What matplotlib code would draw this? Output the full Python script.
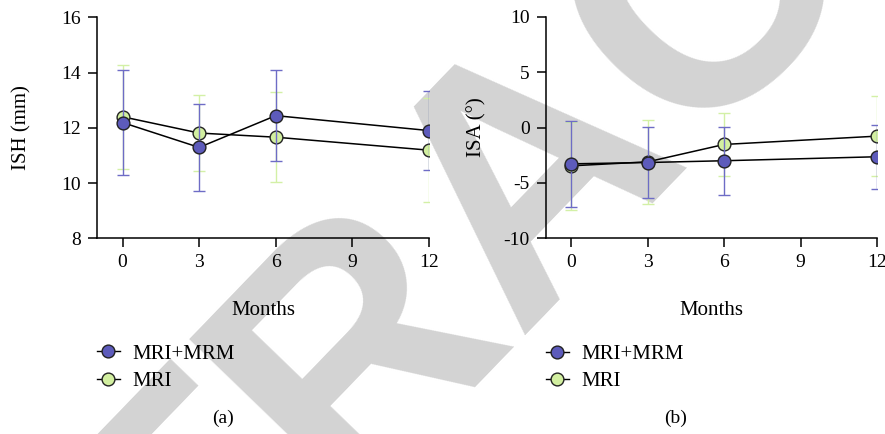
import matplotlib
matplotlib.use("Agg")
import matplotlib.pyplot as plt
from matplotlib.lines import Line2D

plt.rcParams['font.family'] = ['Liberation Serif', 'DejaVu Serif']

months = [0, 3, 6, 12]
groups = ["MRI+MRM", "MRI"]

# ISH (mm): mean and SD per group
ish_mean = {"MRI+MRM": [12.19, 11.29, 12.44, 11.90],
            "MRI": [12.40, 11.81, 11.66, 11.19]}
ish_sd = {"MRI+MRM": [1.89, 1.56, 1.65, 1.43],
          "MRI": [1.88, 1.37, 1.64, 1.88]}

# ISA (deg): mean and SD per group
isa_mean = {"MRI+MRM": [-3.28, -3.16, -3.00, -2.64],
            "MRI": [-3.46, -3.10, -1.53, -0.78]}
isa_sd = {"MRI+MRM": [3.85, 3.19, 3.07, 2.88],
          "MRI": [4.00, 3.80, 2.85, 3.58]}

face = {"MRI+MRM": "#5d5bbb", "MRI": "#d2efa0"}
bar = {"MRI+MRM": "#6e6cc6", "MRI": "#d3f0a6"}

fig = plt.figure(figsize=(8.85, 4.34), dpi=100)

# watermark behind the plots
fig.text(600 / 885, 1 - 234 / 434, "RETRACTED", rotation=46, fontsize=250,
         color="#d3d3d3", ha="center", va="baseline", rotation_mode="anchor",
         family="Liberation Sans", weight="bold", zorder=-5)

ax1 = fig.add_axes([97 / 885, 1 - 238.3 / 434, 332 / 885, 221 / 434])
ax2 = fig.add_axes([545.7 / 885, 1 - 238.3 / 434, 331.3 / 885, 221.6 / 434])


def draw(ax, mean, sd, ylim, yticks, ylabel, ylab_x):
    for z, g in zip([2, 4], ["MRI", "MRI+MRM"]):
        ax.errorbar(months, mean[g], yerr=sd[g], fmt="none", ecolor=bar[g],
                    elinewidth=1.0, capsize=4.5, capthick=1.0, zorder=z)
        ax.plot(months, mean[g], color="black", lw=1.1, marker="o", ms=9.2,
                mfc=face[g], mec="#222222", mew=1.0, zorder=z + 0.5)
    ax.set_xlim(-1, 12)
    ax.set_ylim(*ylim)
    ax.set_xticks([0, 3, 6, 9, 12])
    ax.set_yticks(yticks)
    ax.set_yticklabels([str(t) for t in yticks])
    ax.spines[["top", "right"]].set_visible(False)
    ax.spines[["left", "bottom"]].set_linewidth(1.1)
    ax.tick_params(direction="out", length=6.5, width=1.1, labelsize=14, pad=5)
    ax.set_facecolor("none")
    ax.set_xlabel("Months", fontsize=15)
    ax.xaxis.set_label_coords(0.5, -0.326)
    ax.xaxis.label.set_verticalalignment("center")
    ax.set_ylabel(ylabel, fontsize=15)
    ax.yaxis.set_label_coords(ylab_x, 0.5)
    ax.yaxis.label.set_verticalalignment("center")
    handles = [Line2D([], [], color="black", lw=1.0, marker="o", ms=9.2,
                      mfc=face[g], mec="#222222", mew=1.0) for g in groups]
    ax.legend(handles, groups, loc="upper left", bbox_to_anchor=(0.0, -0.478),
              frameon=False, fontsize=15, handlelength=1.1, handletextpad=0.6,
              labelspacing=0.375, borderpad=0, borderaxespad=0)


draw(ax1, ish_mean, ish_sd, (8, 16), [8, 10, 12, 14, 16], "ISH (mm)", -0.226)
draw(ax2, isa_mean, isa_sd, (-10, 10), [-10, -5, 0, 5, 10], "ISA (°)", -0.207)

fig.text(223 / 885, 1 - 418 / 434, "(a)", ha="center", va="center", fontsize=14)
fig.text(675.7 / 885, 1 - 418 / 434, "(b)", ha="center", va="center", fontsize=14)

fig.savefig("out.png", dpi=100)
